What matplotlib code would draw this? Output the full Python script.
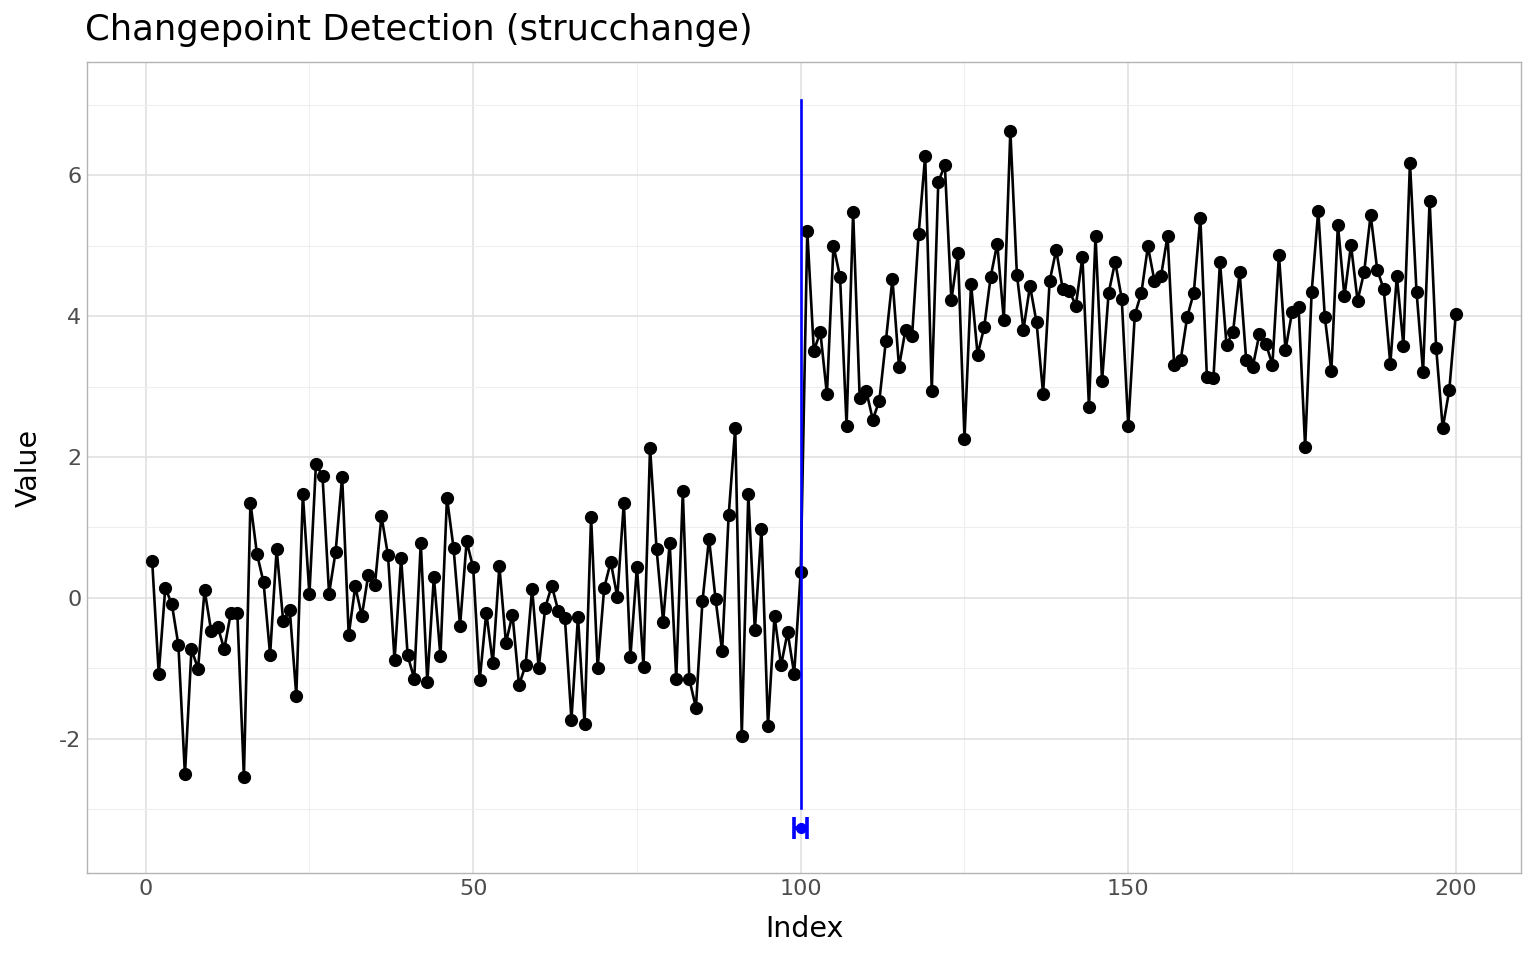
import numpy as np
import matplotlib
matplotlib.use("Agg")
import matplotlib.pyplot as plt

index = np.arange(1, 201)
values = [
    0.52, -1.08, 0.14, -0.09, -0.67, -2.51, -0.73, -1.01, 0.11, -0.47,
    -0.41, -0.73, -0.22, -0.22, -2.54, 1.35, 0.62, 0.22, -0.81, 0.69,
    -0.33, -0.17, -1.39, 1.47, 0.05, 1.90, 1.73, 0.06, 0.65, 1.72,
    -0.53, 0.16, -0.26, 0.33, 0.18, 1.16, 0.60, -0.89, 0.57, -0.82,
    -1.15, 0.78, -1.20, 0.30, -0.83, 1.42, 0.71, -0.40, 0.80, 0.43,
    -1.17, -0.21, -0.93, 0.45, -0.64, -0.24, -1.24, -0.96, 0.13, -1.00,
    -0.14, 0.17, -0.19, -0.29, -1.73, -0.27, -1.79, 1.15, -1.00, 0.14,
    0.51, 0.01, 1.35, -0.84, 0.44, -0.98, 2.13, 0.69, -0.34, 0.78,
    -1.15, 1.51, -1.16, -1.56, -0.05, 0.84, -0.02, -0.76, 1.17, 2.41,
    -1.96, 1.47, -0.46, 0.98, -1.82, -0.26, -0.96, -0.49, -1.08, 0.37,
    5.21, 3.51, 3.77, 2.89, 5.00, 4.56, 2.44, 5.48, 2.84, 2.94,
    2.53, 2.80, 3.65, 4.53, 3.28, 3.81, 3.72, 5.17, 6.28, 2.93,
    5.91, 6.14, 4.23, 4.89, 2.26, 4.46, 3.45, 3.84, 4.56, 5.03,
    3.95, 6.63, 4.59, 3.81, 4.43, 3.91, 2.90, 4.50, 4.94, 4.38,
    4.36, 4.15, 4.84, 2.71, 5.14, 3.08, 4.33, 4.77, 4.25, 2.44,
    4.02, 4.33, 4.99, 4.50, 4.57, 5.14, 3.30, 3.38, 3.99, 4.33,
    5.40, 3.14, 3.12, 4.77, 3.59, 3.78, 4.62, 3.38, 3.28, 3.74,
    3.61, 3.31, 4.87, 3.52, 4.06, 4.13, 2.14, 4.35, 5.50, 3.99,
    3.22, 5.30, 4.28, 5.01, 4.22, 4.62, 5.44, 4.66, 4.38, 3.32,
    4.57, 3.58, 6.18, 4.35, 3.21, 5.64, 3.55, 2.41, 2.95, 4.03,
]

breakpoint = 100
ci_low, ci_high = 99, 101
ci_y = -3.27
seg_low, seg_high = -2.98, 7.07

fig = plt.figure(figsize=(15.36, 9.6), dpi=100)
ax = fig.add_axes([87 / 1536, 1 - 873 / 960, (1521 - 87) / 1536, (873 - 62) / 960])

ax.plot(index, values, color="black", lw=1.9, zorder=3)
ax.plot(index, values, "o", color="black", ms=8.5, zorder=4)

ax.plot([breakpoint, breakpoint], [seg_low, seg_high], color="blue", lw=1.9, zorder=5)
ax.errorbar([breakpoint], [ci_y], xerr=[[breakpoint - ci_low], [ci_high - breakpoint]],
            fmt="o", color="blue", ms=7, capsize=8, capthick=2.6, elinewidth=2.6, zorder=5)

ax.set_xlim(-8.95, 209.95)
ax.set_ylim(-3.91, 7.61)
ax.set_xticks([0, 50, 100, 150, 200])
ax.set_yticks([-2, 0, 2, 4, 6])
ax.set_xticks([25, 75, 125, 175], minor=True)
ax.set_yticks([-3, -1, 1, 3, 5, 7], minor=True)
ax.grid(which="major", color="#dedede", lw=1.1)
ax.grid(which="minor", color="#efefef", lw=0.8)
ax.set_axisbelow(True)
for s in ax.spines.values():
    s.set_color("#b3b3b3")
    s.set_linewidth(1.0)
ax.tick_params(which="both", length=0, labelsize=16, labelcolor="#4d4d4d", pad=4)
ax.tick_params(which="minor", labelbottom=False, labelleft=False)
ax.set_yticklabels(["-2", "0", "2", "4", "6"])

ax.set_xlabel("Index", fontsize=20.5, labelpad=12)
ax.set_ylabel("Value", fontsize=20.5, labelpad=12)
fig.text(85 / 1536, 1 - 30 / 960, "Changepoint Detection (strucchange)", fontsize=25.5, va="center", ha="left")

fig.savefig("out.png", dpi=100)
